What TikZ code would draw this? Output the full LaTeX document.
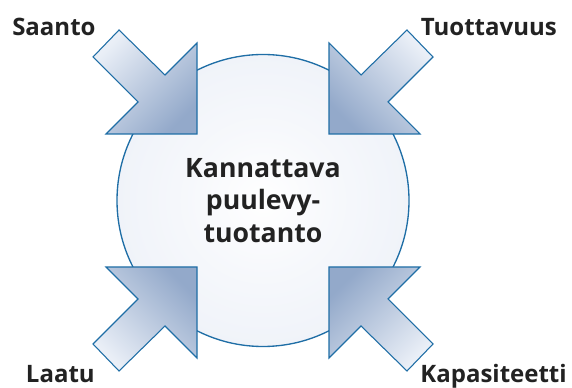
\documentclass[tikz,border=0pt]{standalone}
\usepackage{fontspec}
\setmainfont{Open Sans}
\usetikzlibrary{positioning}

\definecolor{rimblue}{HTML}{1F6EA6}
\definecolor{paleblue}{HTML}{E3E9F4}
\definecolor{tailblue}{HTML}{EAEFF7}
\definecolor{headblue}{HTML}{93A9CA}
\definecolor{inkgray}{HTML}{222222}

\pgfdeclareradialshading{corefill}{\pgfpoint{0bp}{0bp}}{%
  color(0bp)=(white); color(12bp)=(white!70!paleblue); color(50bp)=(paleblue); color(100bp)=(paleblue)}

\begin{document}
\begin{tikzpicture}[
        x=0.75pt, y=-0.75pt,
        core/.style={draw=rimblue, line width=1pt, circle, minimum size=219pt, shading=corefill, inner sep=0pt,
                     font=\bfseries\fontsize{20}{24.5}\selectfont, text=inkgray, align=center},
        label/.style={font=\bfseries\fontsize{18}{21}\selectfont, text=inkgray, inner sep=0pt},
        fatarrow/.style={draw=rimblue, line width=0.8pt, line join=miter, top color=tailblue, bottom color=headblue}
    ]
        \useasboundingbox (0,0) rectangle (572,388);

        % Circle
        \node[core] (core) at (263,200.5) {Kannattava\\puulevy-\\tuotanto};

        % Arrows
        \draw[fatarrow, shading angle=45] (119,30) -- (165,75) -- (197,43) -- (197,134) -- (106,134) -- (138,102) -- (93,57) -- cycle;
        \draw[fatarrow, shading angle=-45] (407,30) -- (361,75) -- (329,43) -- (329,134) -- (420,134) -- (388,102) -- (433,57) -- cycle;
        \draw[fatarrow, shading angle=135] (119,371) -- (165,326) -- (197,358) -- (197,267) -- (106,267) -- (138,299) -- (93,344) -- cycle;
        \draw[fatarrow, shading angle=-135] (407,371) -- (361,326) -- (329,358) -- (329,267) -- (420,267) -- (388,299) -- (433,344) -- cycle;

        % Labels
        \node[label, anchor=base west] (saanto) at (12,36) {Saanto};
        \node[label, anchor=base east] (tuottavuus) at (557,36) {Tuottavuus};
        \node[label, anchor=base east] (laatu) at (95,383) {Laatu};
        \node[label, anchor=base east] (kapasiteetti) at (567,383) {Kapasiteetti};
    \end{tikzpicture}
\end{document}
